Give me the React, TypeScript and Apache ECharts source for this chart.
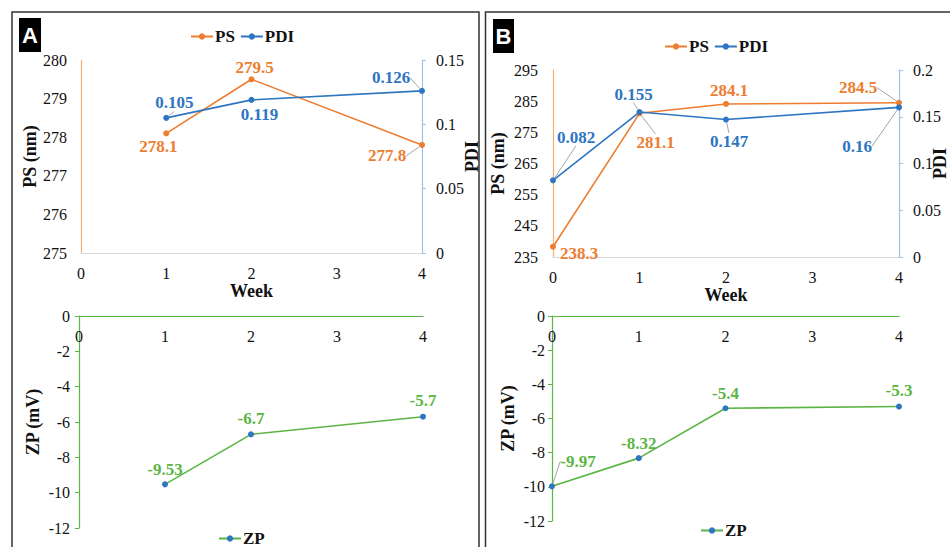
import React, { useEffect, useRef } from 'react';
import * as echarts from 'echarts';

// Weeks on the category axis (week 3 has no measurement)
const weeks = ['0', '1', '2', '3', '4'];

// Formulation A
const psA: (number | null)[] = [null, 278.1, 279.5, null, 277.8];
const pdiA: (number | null)[] = [null, 0.105, 0.119, null, 0.126];
const zpA: (number | null)[] = [null, -9.53, -6.7, null, -5.7];

// Formulation B
const psB: (number | null)[] = [238.3, 281.1, 284.1, null, 284.5];
const pdiB: (number | null)[] = [0.082, 0.155, 0.147, null, 0.16];
const zpB: (number | null)[] = [-9.97, -8.32, -5.4, null, -5.3];

// Label placement: [dx, dy] from the point to the label centre
const psAShift = [null, [-8, 13], [3, -12], null, [-35, 11]];
const pdiAShift = [null, [8, -15], [8, 15], null, [-31, -13]];
const zpAShift = [null, [0, -15], [0, -16], null, [0, -16]];
const psBShift = [[26, 7], [16, 29], [3, -13], null, [-41, -15]];
const pdiBShift = [[23, -43], [-6, -18], [3, 22], null, [-42, 39]];
const zpBShift = [[26, -25], [0, -15], [0, -15], null, [0, -16]];

// Which labels get a grey leader line
const psALeader = [false, false, false, false, true];
const pdiALeader = [false, true, false, false, true];
const zpALeader = [false, false, false, false, false];
const psBLeader = [false, true, false, false, true];
const pdiBLeader = [true, true, true, false, true];
const zpBLeader = [true, false, false, false, false];

const SERIF = 'Liberation Serif';
const ORANGE = '#ED7D31';
const BLUE = '#2E75C2';
const GREEN = '#5BB544';
const ORANGE_AXIS = '#F5AE78';
const BLUE_AXIS = '#9DC3E6';
const TEXT = '#111';

function lineSeries(
  name: string,
  values: (number | null)[],
  shifts: (number[] | null)[],
  leaders: boolean[],
  xi: number,
  yi: number,
  lineColor: string,
  markerColor: string,
  labelColor: string
) {
  return {
    type: 'line',
    name,
    xAxisIndex: xi,
    yAxisIndex: yi,
    data: values.map((v, i) =>
      v == null ? '-' : { value: v, labelLine: { show: leaders[i] } }
    ),
    connectNulls: true,
    symbol: 'circle',
    symbolSize: 6,
    lineStyle: { color: lineColor, width: 1.6 },
    itemStyle: { color: markerColor },
    label: {
      show: true,
      position: 'inside',
      color: labelColor,
      fontFamily: SERIF,
      fontWeight: 'bold',
      fontSize: 17,
    },
    labelLayout: (p: any) => {
      const s = shifts[p.dataIndex];
      return s ? { dx: s[0], dy: s[1] } : {};
    },
    labelLine: { show: false, lineStyle: { color: '#a6a6a6', width: 1 } },
    emphasis: { disabled: true },
    silent: true,
  };
}

const tickLabel = { fontFamily: SERIF, fontSize: 16, color: TEXT };
const axisName = { fontFamily: SERIF, fontSize: 18, fontWeight: 'bold', color: TEXT };
const fmt2 = (v: number) => String(+v.toFixed(2));

function topX(gridIndex: number) {
  return {
    type: 'category',
    gridIndex,
    data: weeks,
    boundaryGap: false,
    axisLine: { lineStyle: { color: '#D9D9D9', width: 1.2 } },
    axisTick: { show: false },
    axisLabel: { ...tickLabel, margin: 12 },
    name: 'Week',
    nameLocation: 'middle',
    nameGap: 27,
    nameTextStyle: axisName,
    splitLine: { show: false },
  };
}

function zpX(gridIndex: number) {
  return {
    type: 'category',
    gridIndex,
    data: weeks,
    position: 'top',
    boundaryGap: false,
    axisLine: { lineStyle: { color: GREEN, width: 1.2 } },
    axisTick: { show: false },
    axisLabel: { ...tickLabel, inside: true, margin: 12 },
    splitLine: { show: false },
  };
}

function yAxisDef(
  gridIndex: number,
  position: string,
  min: number,
  max: number,
  interval: number,
  name: string,
  nameGap: number,
  color: string,
  showTicks: boolean,
  labelMargin: number,
  formatter?: (v: number) => string
) {
  const axis: any = {
    type: 'value',
    gridIndex,
    position,
    min,
    max,
    interval,
    name,
    nameLocation: 'middle',
    nameGap,
    nameTextStyle: axisName,
    axisLine: { show: true, lineStyle: { color, width: 1.2 } },
    axisTick: { show: showTicks, length: 4, lineStyle: { color } },
    axisLabel: formatter
      ? { ...tickLabel, margin: labelMargin, formatter }
      : { ...tickLabel, margin: labelMargin },
    splitLine: { show: false },
  };
  // right-hand names sit at a fixed gap from the axis line
  if (position === 'right') axis.nameMoveOverlap = false;
  return axis;
}

function legendAt(left: number, top: number, names: string[]) {
  return {
    left,
    top,
    data: names,
    padding: 0,
    itemWidth: 22,
    itemHeight: 8,
    itemGap: 5,
    selectedMode: false,
    textStyle: { fontFamily: SERIF, fontSize: 17, fontWeight: 'bold', color: TEXT, padding: [0, 0, 0, -3] },
  };
}

function panelTag(x: number, y: number, w: number, h: number, letter: string) {
  return {
    type: 'group',
    children: [
      { type: 'rect', shape: { x, y, width: w, height: h }, style: { fill: '#000' } },
      {
        type: 'text',
        x: x + w / 2,
        y: y + h / 2,
        style: {
          text: letter,
          fill: '#fff',
          fontFamily: 'Liberation Sans',
          fontWeight: 'bold',
          fontSize: 22,
          align: 'center',
          verticalAlign: 'middle',
        },
      },
    ],
  };
}

const gridBase = { outerBoundsMode: 'none', containLabel: false };

export default function App() {
  const ref = useRef<HTMLDivElement>(null);

  useEffect(() => {
    if (!ref.current) return;
    const chart = echarts.init(ref.current, undefined, { renderer: 'svg' });
    chart.setOption({
      animation: false,
      backgroundColor: '#fff',
      grid: [
        { ...gridBase, left: 81, top: 60, width: 341, height: 193 },
        { ...gridBase, left: 79, top: 316, width: 344, height: 212 },
        { ...gridBase, left: 553, top: 70, width: 346, height: 187 },
        { ...gridBase, left: 552, top: 316, width: 347, height: 205 },
      ],
      xAxis: [topX(0), zpX(1), topX(2), zpX(3)],
      yAxis: [
        yAxisDef(0, 'left', 275, 280, 1, 'PS (nm)', 39, ORANGE_AXIS, false, 14),
        yAxisDef(0, 'right', 0, 0.15, 0.05, 'PDI', 41, BLUE_AXIS, true, 14, fmt2),
        yAxisDef(1, 'left', -12, 0, 2, 'ZP (mV)', 37, GREEN, true, 9),
        yAxisDef(2, 'left', 235, 295, 10, 'PS (nm)', 46, ORANGE_AXIS, false, 15),
        yAxisDef(2, 'right', 0, 0.2, 0.05, 'PDI', 32, BLUE_AXIS, true, 14, fmt2),
        yAxisDef(3, 'left', -12, 0, 2, 'ZP (mV)', 35, GREEN, true, 7),
      ],
      legend: [
        legendAt(190, 28, ['PS', 'PDI']),
        legendAt(664, 38, ['PS', 'PDI']),
        legendAt(218, 530, ['ZP']),
        legendAt(700, 522, ['ZP']),
      ],
      series: [
        lineSeries('PS', psA, psAShift, psALeader, 0, 0, ORANGE, ORANGE, ORANGE),
        lineSeries('PDI', pdiA, pdiAShift, pdiALeader, 0, 1, BLUE, BLUE, BLUE),
        lineSeries('ZP', zpA, zpAShift, zpALeader, 1, 2, GREEN, BLUE, GREEN),
        lineSeries('PS', psB, psBShift, psBLeader, 2, 3, ORANGE, ORANGE, ORANGE),
        lineSeries('PDI', pdiB, pdiBShift, pdiBLeader, 2, 4, BLUE, BLUE, BLUE),
        lineSeries('ZP', zpB, zpBShift, zpBLeader, 3, 5, GREEN, BLUE, GREEN),
      ],
      graphic: [
        {
          type: 'rect',
          shape: { x: 12, y: 12, width: 467, height: 560 },
          style: { fill: 'none', stroke: '#333', lineWidth: 1.5 },
          silent: true,
        },
        {
          type: 'rect',
          shape: { x: 485.5, y: 12, width: 480, height: 560 },
          style: { fill: 'none', stroke: '#333', lineWidth: 1.5 },
          silent: true,
        },
        panelTag(19, 18, 22, 34, 'A'),
        panelTag(493, 19, 21, 34, 'B'),
      ],
    });
    return () => chart.dispose();
  }, []);

  return (
    <div
      ref={ref}
      style={{ position: 'fixed', left: 0, top: 0, width: 950, height: 547, background: '#fff' }}
    />
  );
}
